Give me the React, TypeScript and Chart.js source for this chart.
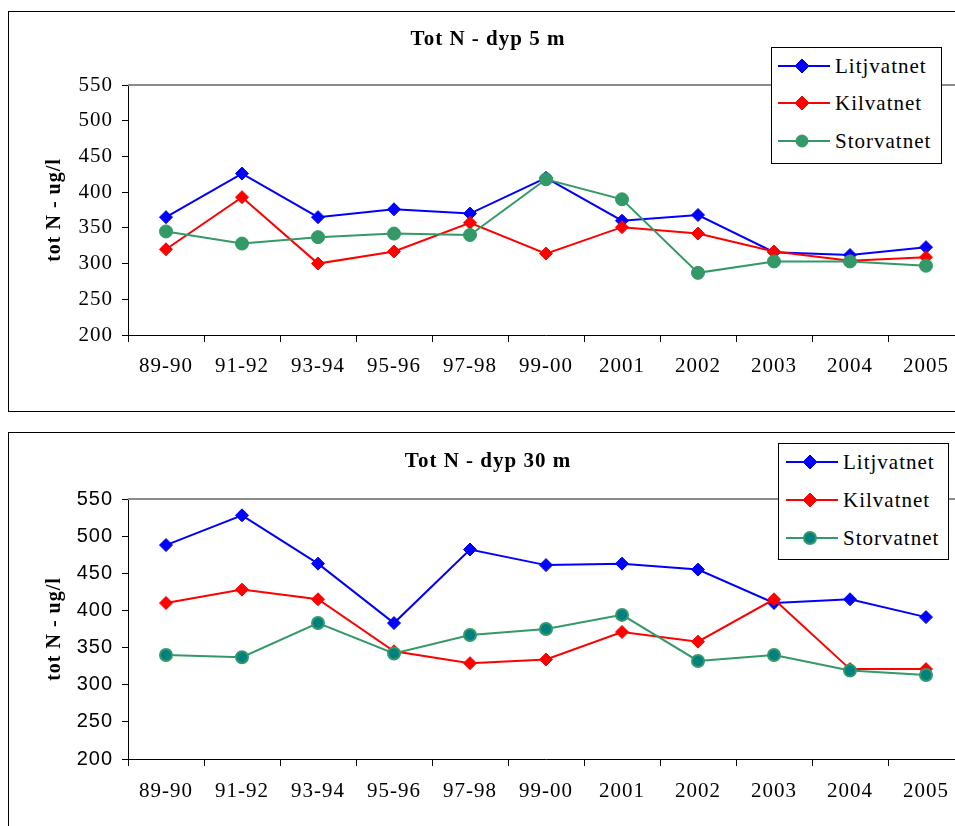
import React, { useEffect, useRef } from 'react';
import { Chart, registerables } from 'chart.js';

Chart.register(...registerables);

// ---------- data ----------
const categories = ['89-90', '91-92', '93-94', '95-96', '97-98', '99-00', '2001', '2002', '2003', '2004', '2005'];
const seriesNames = ['Litjvatnet', 'Kilvatnet', 'Storvatnet'];

const litjvatnet5 = [365, 426, 365, 376, 370, 420, 360, 368, 316, 312, 323];
const kilvatnet5 = [320, 393, 300, 317, 357, 314, 351, 342, 317, 304, 309];
const storvatnet5 = [345, 328, 337, 342, 340, 418, 390, 287, 303, 303, 297];

const litjvatnet30 = [488, 528, 463, 383, 482, 461, 463, 455, 410, 415, 391];
const kilvatnet30 = [410, 428, 415, 345, 329, 334, 371, 358, 415, 321, 321];
const storvatnet30 = [340, 337, 383, 342, 367, 375, 394, 332, 340, 319, 313];

const yTickValues = [200, 250, 300, 350, 400, 450, 500, 550];

const title5 = 'Tot N - dyp 5 m';
const title30 = 'Tot N - dyp 30 m';
const yAxisTitle = 'tot N - ug/l';

// ---------- styles ----------
const SERIF = "'Liberation Serif', 'Times New Roman', serif";
const SANS = "'Liberation Sans', Arial, sans-serif";
const BLUE = '#0000ff';
const RED = '#ff0000';
const GREEN = '#339966';
const TEAL = '#008080';

const framePlugin = {
  id: 'framePlugin',
  beforeDraw(chart: any) {
    try { (chart.ctx as any).letterSpacing = '1px'; } catch (e) {}
  },
  beforeDatasetsDraw(chart: any) {
    const { ctx, chartArea } = chart;
    ctx.save();
    ctx.strokeStyle = '#8c8c8c';
    ctx.lineWidth = 2;
    ctx.beginPath();
    ctx.moveTo(chartArea.left, chartArea.top);
    ctx.lineTo(chartArea.right, chartArea.top);
    ctx.stroke();
    ctx.restore();
  },
};

type ChartProps = {
  width: number;
  height: number;
  padTop: number;
  padBottom: number;
  series: number[][];
  yFont: string;
  yFontSize: number;
  storFill: string;
  storBorderWidth: number;
  storRadius: number;
  xPad: number;
};

function LineChart(p: ChartProps) {
  const ref = useRef<HTMLCanvasElement | null>(null);
  useEffect(() => {
    if (!ref.current) return;
    const mk = (i: number, color: string, order: number) => ({
      label: seriesNames[i],
      data: p.series[i],
      borderColor: color,
      backgroundColor: color,
      borderWidth: 2,
      pointStyle: 'rectRot',
      pointRadius: 6.5,
      pointBorderWidth: 1,
      pointBackgroundColor: color,
      pointBorderColor: color,
      tension: 0,
      order,
    });
    const chart = new Chart(ref.current, {
      type: 'line',
      data: {
        labels: categories,
        datasets: [
          mk(0, BLUE, 2),
          mk(1, RED, 1),
          {
            label: seriesNames[2],
            data: p.series[2],
            borderColor: GREEN,
            backgroundColor: p.storFill,
            borderWidth: 2,
            pointStyle: 'circle',
            pointRadius: p.storRadius,
            pointBorderWidth: p.storBorderWidth,
            pointBackgroundColor: p.storFill,
            pointBorderColor: GREEN,
            tension: 0,
            order: 0,
          },
        ] as any,
      },
      options: {
        responsive: false,
        animation: false,
        events: [],
        layout: { padding: { top: p.padTop, left: 0, right: 45, bottom: p.padBottom } },
        plugins: {
          legend: { display: false },
          title: { display: false },
          tooltip: { enabled: false },
        },
        scales: {
          x: {
            type: 'category',
            offset: true,
            grid: { offset: true, drawOnChartArea: false, drawTicks: true, tickLength: 7, color: '#000', lineWidth: 1 },
            border: { display: true, color: '#000', width: 1 },
            ticks: { color: '#000', font: { family: SERIF, size: 21 }, padding: p.xPad, maxRotation: 0, autoSkip: false },
            afterFit: (s: any) => { s.height = 50; },
          },
          y: {
            min: yTickValues[0],
            max: yTickValues[yTickValues.length - 1],
            afterBuildTicks: (s: any) => { s.ticks = yTickValues.map((v) => ({ value: v })); },
            ticks: { color: '#000', font: { family: p.yFont, size: p.yFontSize }, padding: 9 },
            grid: { drawOnChartArea: false, drawTicks: true, tickLength: 6, color: '#000', lineWidth: 1 },
            border: { display: true, color: '#000', width: 1 },
            title: {
              display: true,
              text: yAxisTitle,
              color: '#000',
              font: { family: SERIF, size: 20, weight: 'bold' },
              padding: { top: 34, bottom: 0 },
            },
            afterFit: (s: any) => { s.width = 119; },
          },
        },
      } as any,
      plugins: [framePlugin],
    });
    return () => chart.destroy();
  }, []);
  return <canvas ref={ref} width={p.width} height={p.height} style={{ width: p.width, height: p.height, display: 'block' }} />;
}

function LegendMarker({ kind, fill, border }: { kind: string; fill: string; border: string }) {
  return (
    <svg width={52} height={16} style={{ position: 'absolute', left: 0, top: 0 }}>
      <line x1={0} y1={8} x2={52} y2={8} stroke={border} strokeWidth={2} />
      {kind === 'diamond' ? (
        <polygon points="24,1 31,8 24,15 17,8" fill={fill} stroke={fill} strokeWidth={1} />
      ) : (
        <circle cx={24} cy={8} r={6} fill={fill} stroke={border} strokeWidth={fill === border ? 1 : 2} />
      )}
    </svg>
  );
}

function Legend({ left, top, rows, lineLeft, textLeft, storFill }: { left: number; top: number; rows: number[]; lineLeft: number; textLeft: number; storFill: string }) {
  const items = [
    { name: seriesNames[0], kind: 'diamond', fill: BLUE, border: BLUE },
    { name: seriesNames[1], kind: 'diamond', fill: RED, border: RED },
    { name: seriesNames[2], kind: 'circle', fill: storFill, border: GREEN },
  ];
  return (
    <div style={{ position: 'absolute', left, top, width: 171, height: 117, boxSizing: 'border-box', border: '1px solid #000', background: '#fff' }}>
      {items.map((it, i) => (
        <div key={i} style={{ position: 'absolute', left: 0, top: rows[i] - 1 - 12, width: 168, height: 24 }}>
          <div style={{ position: 'absolute', left: lineLeft, top: 4, width: 52, height: 16 }}>
            <LegendMarker kind={it.kind} fill={it.fill} border={it.border} />
          </div>
          <div style={{ position: 'absolute', left: textLeft, top: 0, height: 24, lineHeight: '24px', fontFamily: SERIF, fontSize: 21, letterSpacing: '1px', color: '#000', whiteSpace: 'nowrap' }}>
            {it.name}
          </div>
        </div>
      ))}
    </div>
  );
}

function Title({ text, top }: { text: string; top: number }) {
  return (
    <div style={{ position: 'absolute', left: 338, top, width: 300, textAlign: 'center', fontFamily: SERIF, fontWeight: 'bold', fontSize: 21, lineHeight: '24px', letterSpacing: '1px', color: '#000', whiteSpace: 'nowrap' }}>
      {text}
    </div>
  );
}

export default function App() {
  return (
    <div style={{ position: 'fixed', left: 0, top: 0, width: 955, height: 826, overflow: 'hidden', background: '#fff' }}>
      {/* top chart box */}
      <div style={{ position: 'absolute', left: 8, top: 11, width: 1100, height: 401, boxSizing: 'border-box', border: '1px solid #000' }}>
        <LineChart
          width={1000}
          height={398}
          padTop={73}
          padBottom={25}
          series={[litjvatnet5, kilvatnet5, storvatnet5]}
          yFont={SERIF}
          yFontSize={21}
          storFill={GREEN}
          storBorderWidth={1}
          storRadius={6.5}
          xPad={12}
        />
      </div>
      <Title text={title5} top={26} />
      <Legend left={771} top={47} rows={[19, 56, 94]} lineLeft={6} textLeft={63} storFill={GREEN} />

      {/* bottom chart box */}
      <div style={{ position: 'absolute', left: 8, top: 432, width: 1100, height: 500, boxSizing: 'border-box', border: '1px solid #000' }}>
        <LineChart
          width={1000}
          height={400}
          padTop={66}
          padBottom={24}
          series={[litjvatnet30, kilvatnet30, storvatnet30]}
          yFont={SANS}
          yFontSize={20}
          storFill={TEAL}
          storBorderWidth={2}
          storRadius={6}
          xPad={13}
        />
      </div>
      <Title text={title30} top={448} />
      <Legend left={778} top={443} rows={[19, 57, 95]} lineLeft={7} textLeft={64} storFill={TEAL} />
    </div>
  );
}
